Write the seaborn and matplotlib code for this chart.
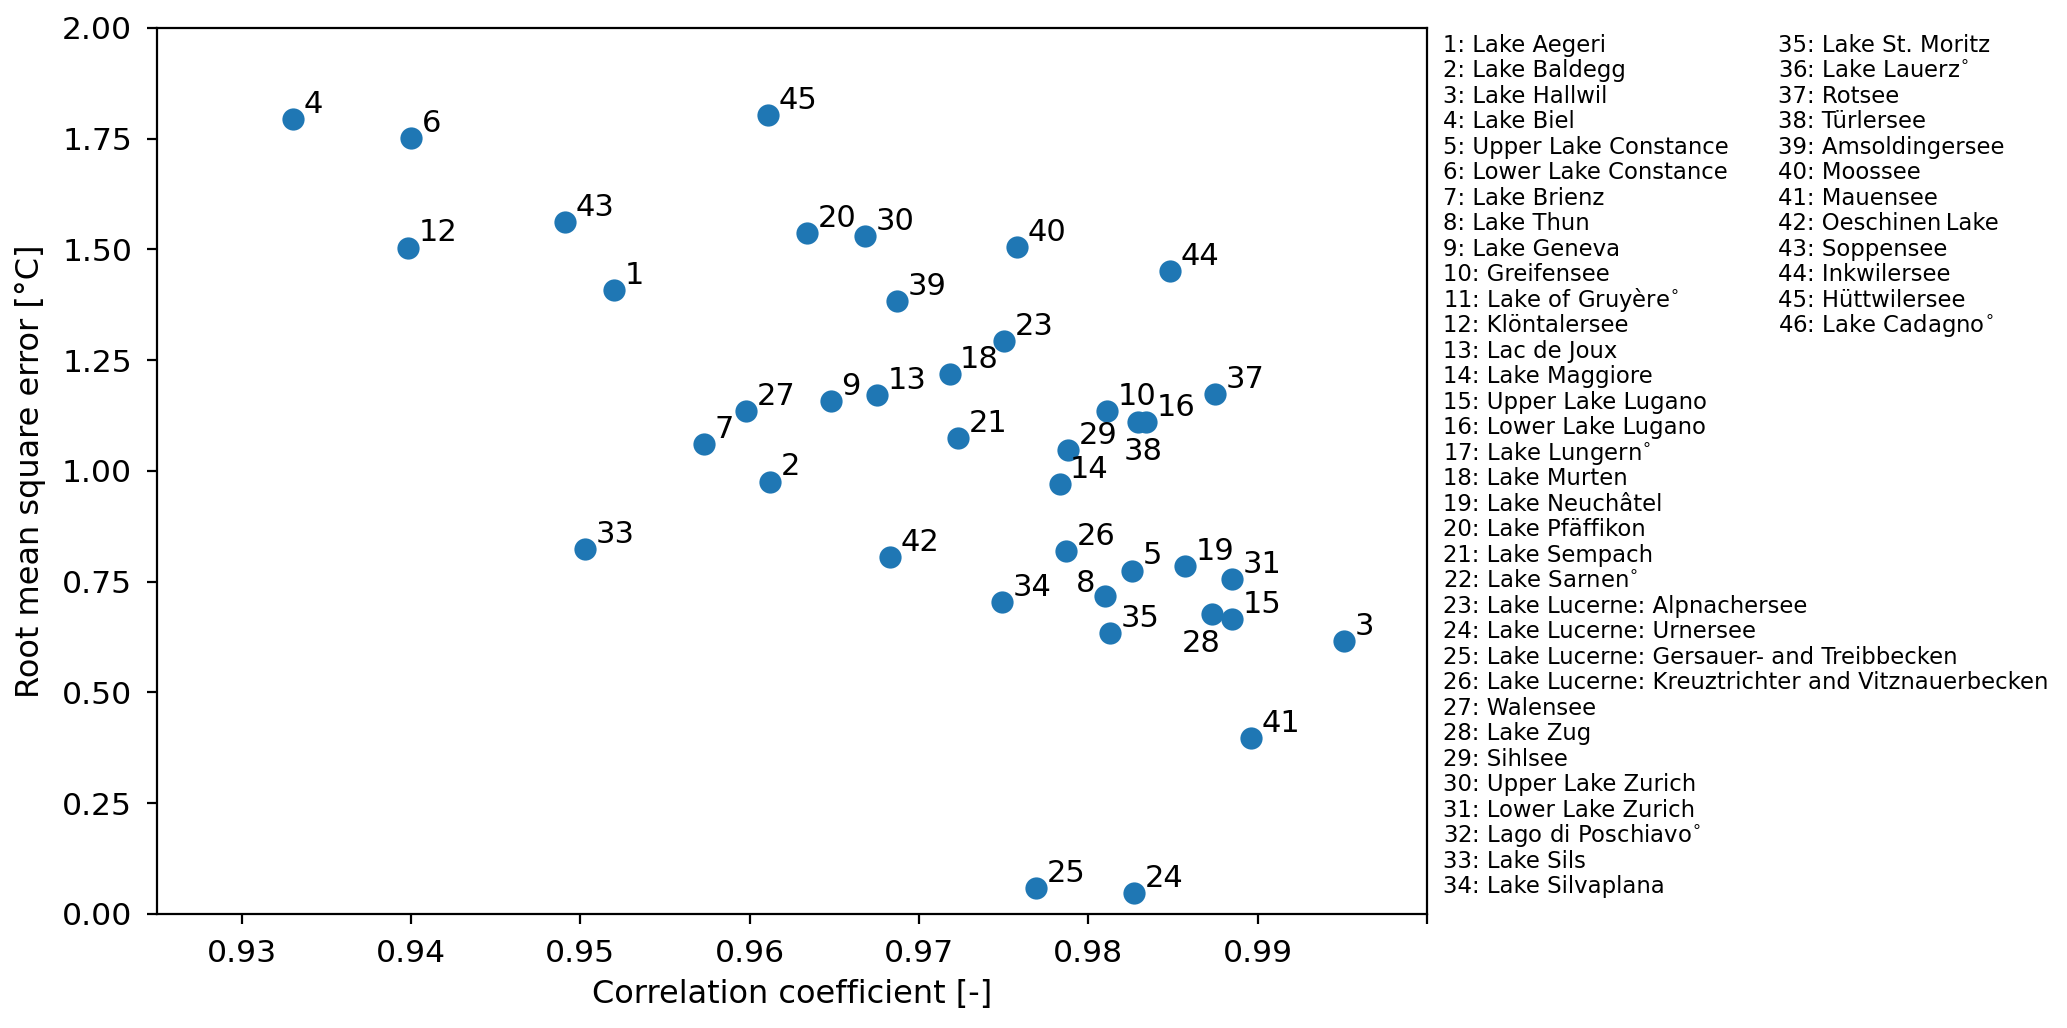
import numpy as np
import pandas as pd
import matplotlib
matplotlib.use("Agg")
import matplotlib.pyplot as plt
import seaborn as sns

# lake list (legend), degree mark = lakes without a point
lake_names = [
    "Lake Aegeri", "Lake Baldegg", "Lake Hallwil", "Lake Biel",
    "Upper Lake Constance", "Lower Lake Constance", "Lake Brienz", "Lake Thun",
    "Lake Geneva", "Greifensee", "Lake of Gruyère$^{\\circ}$", "Klöntalersee",
    "Lac de Joux", "Lake Maggiore", "Upper Lake Lugano", "Lower Lake Lugano",
    "Lake Lungern$^{\\circ}$", "Lake Murten", "Lake Neuchâtel", "Lake Pfäffikon",
    "Lake Sempach", "Lake Sarnen$^{\\circ}$", "Lake Lucerne: Alpnachersee",
    "Lake Lucerne: Urnersee", "Lake Lucerne: Gersauer- and Treibbecken",
    "Lake Lucerne: Kreuztrichter and Vitznauerbecken", "Walensee", "Lake Zug",
    "Sihlsee", "Upper Lake Zurich", "Lower Lake Zurich",
    "Lago di Poschiavo$^{\\circ}$", "Lake Sils", "Lake Silvaplana",
    "Lake St. Moritz", "Lake Lauerz$^{\\circ}$", "Rotsee", "Türlersee",
    "Amsoldingersee", "Moossee", "Mauensee", "Oeschinen\u2009Lake", "Soppensee",
    "Inkwilersee", "Hüttwilersee", "Lake Cadagno$^{\\circ}$",
]

lake_ids = [1, 2, 3, 4, 5, 6, 7, 8, 9, 10, 12, 13, 14, 15, 16, 18, 19, 20, 21,
            23, 24, 25, 26, 27, 28, 29, 30, 31, 33, 34, 35, 37, 38, 39, 40, 41,
            42, 43, 44, 45]
corr_coef = [0.9520, 0.9612, 0.9951, 0.9330, 0.9826, 0.9400, 0.9573, 0.9810,
             0.9648, 0.9811, 0.9398, 0.9675, 0.9783, 0.9885, 0.9834, 0.9718,
             0.9857, 0.9634, 0.9723, 0.9750, 0.9827, 0.9769, 0.9787, 0.9598,
             0.9873, 0.9788, 0.9668, 0.9885, 0.9503, 0.9749, 0.9813, 0.9875,
             0.9829, 0.9687, 0.9758, 0.9896, 0.9683, 0.9491, 0.9848, 0.9611]
rmse = [1.409, 0.976, 0.615, 1.795, 0.775, 1.751, 1.060, 0.718, 1.158, 1.136,
        1.504, 1.172, 0.970, 0.665, 1.111, 1.218, 0.786, 1.537, 1.075, 1.293,
        0.048, 0.059, 0.819, 1.136, 0.677, 1.047, 1.531, 0.756, 0.823, 0.704,
        0.634, 1.174, 1.111, 1.384, 1.505, 0.397, 0.805, 1.561, 1.452, 1.804]

x_ticks = [0.93, 0.94, 0.95, 0.96, 0.97, 0.98, 0.99, 1.00]
x_tick_labels = ["0.93", "0.94", "0.95", "0.96", "0.97", "0.98", "0.99", ""]
y_ticks = [0.0, 0.25, 0.5, 0.75, 1.0, 1.25, 1.5, 1.75, 2.0]
y_tick_labels = ["0.00", "0.25", "0.50", "0.75", "1.00", "1.25", "1.50", "1.75", "2.00"]

# label offsets (points) for crowded spots
label_offsets = {38: (-5.0, -13.7, "left"), 28: (-11.0, -13.6, "left"), 8: (-3.6, 1.3, "right")}

df = pd.DataFrame({"lake": lake_ids, "corr": corr_coef, "rmse": rmse})

fig = plt.figure(figsize=(2067 / 200, 1028 / 200), dpi=200)
ax = fig.add_axes([0.076, 0.111, 0.6144, 0.8619])

sns.scatterplot(data=df, x="corr", y="rmse", s=64, color="#1f77b4",
                linewidth=0, ax=ax)

for _, row in df.iterrows():
    lid = int(row["lake"])
    dx, dy, ha = label_offsets.get(lid, (3.8, 2.2, "left"))
    ax.annotate(str(lid), (row["corr"], row["rmse"]), xytext=(dx, dy),
                textcoords="offset points", fontsize=11, ha=ha, va="baseline")

ax.set_xlim(0.925, 1.0)
ax.set_ylim(0, 2.0)
ax.set_xticks(x_ticks)
ax.set_xticklabels(x_tick_labels, fontsize=11.3)
ax.set_yticks(y_ticks)
ax.set_yticklabels(y_tick_labels, fontsize=11.3)
ax.tick_params(axis="both", pad=5.5)
ax.set_xlabel("Correlation coefficient [-]", fontsize=11.5)
ax.set_ylabel("Root mean square error [°C]", fontsize=11.5, labelpad=5.5)

# lake list next to the axes, two columns
W, H = 2067, 1028
col_x = [1443, 1778]
for i, name in enumerate(lake_names):
    col = 0 if i < 34 else 1
    row_i = i if i < 34 else i - 34
    y_px = 51.7 + row_i * 25.5
    fig.text(col_x[col] / W, 1 - y_px / H, f"{i + 1}: {name}", fontsize=8.2,
             ha="left", va="baseline")

fig.savefig("out.png", dpi=200)
